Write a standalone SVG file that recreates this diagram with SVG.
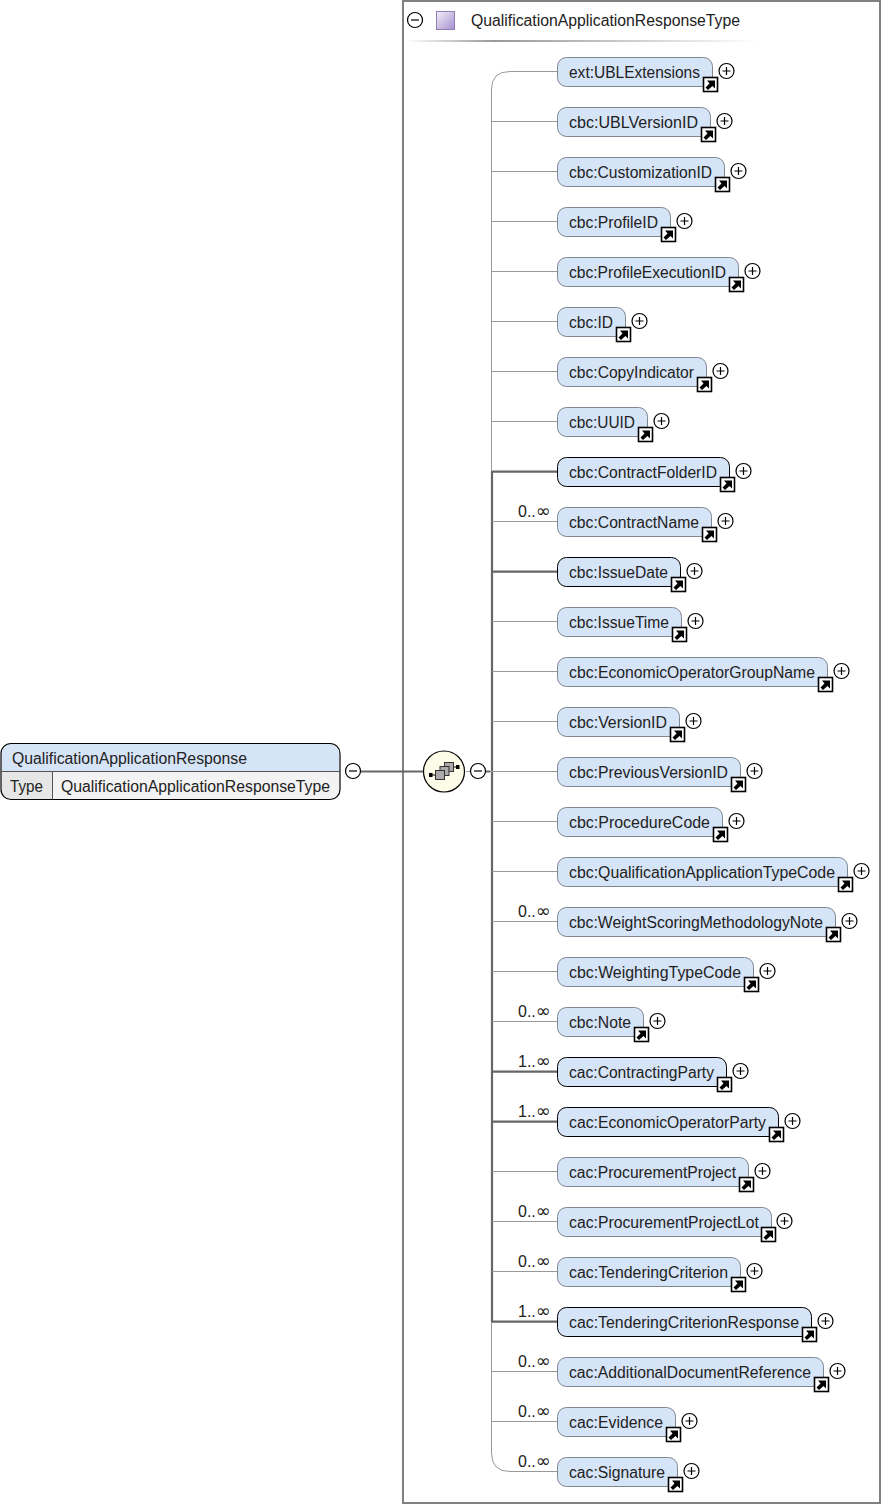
<svg xmlns="http://www.w3.org/2000/svg" xmlns:xlink="http://www.w3.org/1999/xlink" width="883" height="1506" viewBox="0 0 883 1506">
<style>
text{font-family:"Liberation Sans",Arial,sans-serif;font-size:16px;fill:#222}
tspan{font-family:"DejaVu Sans",sans-serif;font-size:18px}
.n{fill:#d6e4f7;stroke:#7f8791;stroke-width:1}
.r{fill:#d6e4f7;stroke:#000;stroke-width:1}
.t{fill:none;stroke:#999;stroke-width:1}
.k{fill:none;stroke:#666;stroke-width:2.2}
.c{fill:#fff;stroke:#000;stroke-width:1.2}
</style>
<defs>
<linearGradient id="sq" x1="0" y1="0" x2="1" y2="1"><stop offset="0" stop-color="#f4f0fa"/><stop offset="1" stop-color="#a68fcf"/></linearGradient>
<linearGradient id="hl" x1="0" y1="0" x2="1" y2="0"><stop offset="0" stop-color="#fff"/><stop offset="0.25" stop-color="#999"/><stop offset="1" stop-color="#fff"/></linearGradient>
<g id="plus"><circle class="c" r="7.5"/><path d="M-4 0H4M0-4V4" stroke="#000" stroke-width="1.2"/></g>
<g id="minus"><circle class="c" r="7.5"/><path d="M-4 0H4" stroke="#000" stroke-width="1.2"/></g>
<g id="link"><rect x="0.5" y="0.5" width="14" height="14" fill="#fff" stroke="#000" stroke-width="1.6"/><path d="M2.500 10.500L6.500 6.500L4 3.500H12V11.500L9.500 9L5 13Z" fill="#000"/></g>
</defs>
<rect width="883" height="1506" fill="#fff"/>
<g id="frame">
<rect x="403" y="1" width="477" height="1502" fill="#fff" stroke="#808080" stroke-width="2"/>
<use xlink:href="#minus" href="#minus" x="415" y="20"/>
<rect x="436.500" y="11.500" width="18" height="18" fill="url(#sq)" stroke="#8f7fb5"/>
<text x="471" y="26" textLength="269" lengthAdjust="spacingAndGlyphs">QualificationApplicationResponseType</text>
<rect x="405" y="40" width="355" height="2" fill="url(#hl)"/>
</g>
<g id="connectors">
<path class="k" d="M361 771.500H423"/>
<path class="t" d="M557 71.500H510Q491.500 71.500 491.500 89V1453Q491.500 1471.500 510 1471.500H557"/>
<path class="k" d="M492 471V1322"/>
<path class="t" d="M466 771.500H470M490 771.500H557M492 121.500H557M492 171.500H557M492 221.500H557M492 271.500H557M492 321.500H557M492 371.500H557M492 421.500H557M492 521.500H557M492 621.500H557M492 671.500H557M492 721.500H557M492 821.500H557M492 871.500H557M492 921.500H557M492 971.500H557M492 1021.500H557M492 1171.500H557M492 1221.500H557M492 1271.500H557M492 1371.500H557M492 1421.500H557"/>
<path class="k" d="M486 771.500H490M492 471.700H557M492 571.700H557M492 1071.700H557M492 1121.700H557M492 1321.700H557"/>
</g>
<g id="root">
<path d="M1.500 771V754a10 10 0 0 1 10-10H329a10 10 0 0 1 10 10V771Z" fill="#d6e4f7"/>
<path d="M1.500 771H53V799H11.500a10 10 0 0 1-10-10Z" fill="#e6e6e6"/>
<path d="M53 771H339V789a10 10 0 0 1-10 10H53Z" fill="#f3f3f3"/>
<rect x="1" y="743.500" width="339" height="56" rx="10" fill="none" stroke="#000" stroke-width="1.2"/>
<path d="M1 771.500H340M52.500 771.500V799.500" stroke="#555" stroke-width="1"/>
<text x="12" y="764" textLength="235" lengthAdjust="spacingAndGlyphs">QualificationApplicationResponse</text>
<text x="10" y="792" textLength="33" lengthAdjust="spacingAndGlyphs">Type</text>
<text x="61" y="792" textLength="269" lengthAdjust="spacingAndGlyphs">QualificationApplicationResponseType</text>
<use xlink:href="#minus" href="#minus" x="353" y="771"/>
</g>
<g id="sequence">
<circle cx="444" cy="771.500" r="20.500" fill="#fcfce8" stroke="#000" stroke-width="1.2"/>
<path d="M430 775H438M452 767H458" stroke="#000"/>
<rect x="429" y="773" width="3.500" height="4" fill="#000"/><rect x="456" y="765" width="3.500" height="4" fill="#000"/>
<rect x="444.500" y="762.500" width="9" height="9" fill="#aaa" stroke="#333"/>
<rect x="440" y="766.500" width="9" height="9" fill="#aaa" stroke="#333"/>
<rect x="435.500" y="770.500" width="9" height="9" fill="#aaa" stroke="#333"/>
<use xlink:href="#minus" href="#minus" x="478" y="771"/>
</g>
<g id="n01"><rect class="n" x="557.500" y="57.500" width="155" height="29" rx="9"/><text x="569" y="78" textLength="131" lengthAdjust="spacingAndGlyphs">ext:UBLExtensions</text><use xlink:href="#link" href="#link" x="703" y="77"/><use xlink:href="#plus" href="#plus" x="726.500" y="71"/></g>
<g id="n02"><rect class="n" x="557.500" y="107.500" width="153" height="29" rx="9"/><text x="569" y="128" textLength="129" lengthAdjust="spacingAndGlyphs">cbc:UBLVersionID</text><use xlink:href="#link" href="#link" x="701" y="127"/><use xlink:href="#plus" href="#plus" x="724.500" y="121"/></g>
<g id="n03"><rect class="n" x="557.500" y="157.500" width="167" height="29" rx="9"/><text x="569" y="178" textLength="143" lengthAdjust="spacingAndGlyphs">cbc:CustomizationID</text><use xlink:href="#link" href="#link" x="715" y="177"/><use xlink:href="#plus" href="#plus" x="738.500" y="171"/></g>
<g id="n04"><rect class="n" x="557.500" y="207.500" width="113" height="29" rx="9"/><text x="569" y="228" textLength="89" lengthAdjust="spacingAndGlyphs">cbc:ProfileID</text><use xlink:href="#link" href="#link" x="661" y="227"/><use xlink:href="#plus" href="#plus" x="684.500" y="221"/></g>
<g id="n05"><rect class="n" x="557.500" y="257.500" width="181" height="29" rx="9"/><text x="569" y="278" textLength="157" lengthAdjust="spacingAndGlyphs">cbc:ProfileExecutionID</text><use xlink:href="#link" href="#link" x="729" y="277"/><use xlink:href="#plus" href="#plus" x="752.500" y="271"/></g>
<g id="n06"><rect class="n" x="557.500" y="307.500" width="68" height="29" rx="9"/><text x="569" y="328" textLength="44" lengthAdjust="spacingAndGlyphs">cbc:ID</text><use xlink:href="#link" href="#link" x="616" y="327"/><use xlink:href="#plus" href="#plus" x="639.500" y="321"/></g>
<g id="n07"><rect class="n" x="557.500" y="357.500" width="149" height="29" rx="9"/><text x="569" y="378" textLength="125" lengthAdjust="spacingAndGlyphs">cbc:CopyIndicator</text><use xlink:href="#link" href="#link" x="697" y="377"/><use xlink:href="#plus" href="#plus" x="720.500" y="371"/></g>
<g id="n08"><rect class="n" x="557.500" y="407.500" width="90" height="29" rx="9"/><text x="569" y="428" textLength="66" lengthAdjust="spacingAndGlyphs">cbc:UUID</text><use xlink:href="#link" href="#link" x="638" y="427"/><use xlink:href="#plus" href="#plus" x="661.500" y="421"/></g>
<g id="n09"><rect class="r" x="557.500" y="457.500" width="172" height="29" rx="9"/><text x="569" y="478" textLength="148" lengthAdjust="spacingAndGlyphs">cbc:ContractFolderID</text><use xlink:href="#link" href="#link" x="720" y="477"/><use xlink:href="#plus" href="#plus" x="743.500" y="471"/></g>
<g id="n10"><rect class="n" x="557.500" y="507.500" width="154" height="29" rx="9"/><text x="569" y="528" textLength="130" lengthAdjust="spacingAndGlyphs">cbc:ContractName</text><use xlink:href="#link" href="#link" x="702" y="527"/><use xlink:href="#plus" href="#plus" x="725.500" y="521"/><text x="518" y="517">0..<tspan>∞</tspan></text></g>
<g id="n11"><rect class="r" x="557.500" y="557.500" width="123" height="29" rx="9"/><text x="569" y="578" textLength="99" lengthAdjust="spacingAndGlyphs">cbc:IssueDate</text><use xlink:href="#link" href="#link" x="671" y="577"/><use xlink:href="#plus" href="#plus" x="694.500" y="571"/></g>
<g id="n12"><rect class="n" x="557.500" y="607.500" width="124" height="29" rx="9"/><text x="569" y="628" textLength="100" lengthAdjust="spacingAndGlyphs">cbc:IssueTime</text><use xlink:href="#link" href="#link" x="672" y="627"/><use xlink:href="#plus" href="#plus" x="695.500" y="621"/></g>
<g id="n13"><rect class="n" x="557.500" y="657.500" width="270" height="29" rx="9"/><text x="569" y="678" textLength="246" lengthAdjust="spacingAndGlyphs">cbc:EconomicOperatorGroupName</text><use xlink:href="#link" href="#link" x="818" y="677"/><use xlink:href="#plus" href="#plus" x="841.500" y="671"/></g>
<g id="n14"><rect class="n" x="557.500" y="707.500" width="122" height="29" rx="9"/><text x="569" y="728" textLength="98" lengthAdjust="spacingAndGlyphs">cbc:VersionID</text><use xlink:href="#link" href="#link" x="670" y="727"/><use xlink:href="#plus" href="#plus" x="693.500" y="721"/></g>
<g id="n15"><rect class="n" x="557.500" y="757.500" width="183" height="29" rx="9"/><text x="569" y="778" textLength="159" lengthAdjust="spacingAndGlyphs">cbc:PreviousVersionID</text><use xlink:href="#link" href="#link" x="731" y="777"/><use xlink:href="#plus" href="#plus" x="754.500" y="771"/></g>
<g id="n16"><rect class="n" x="557.500" y="807.500" width="165" height="29" rx="9"/><text x="569" y="828" textLength="141" lengthAdjust="spacingAndGlyphs">cbc:ProcedureCode</text><use xlink:href="#link" href="#link" x="713" y="827"/><use xlink:href="#plus" href="#plus" x="736.500" y="821"/></g>
<g id="n17"><rect class="n" x="557.500" y="857.500" width="290" height="29" rx="9"/><text x="569" y="878" textLength="266" lengthAdjust="spacingAndGlyphs">cbc:QualificationApplicationTypeCode</text><use xlink:href="#link" href="#link" x="838" y="877"/><use xlink:href="#plus" href="#plus" x="861.500" y="871"/></g>
<g id="n18"><rect class="n" x="557.500" y="907.500" width="278" height="29" rx="9"/><text x="569" y="928" textLength="254" lengthAdjust="spacingAndGlyphs">cbc:WeightScoringMethodologyNote</text><use xlink:href="#link" href="#link" x="826" y="927"/><use xlink:href="#plus" href="#plus" x="849.500" y="921"/><text x="518" y="917">0..<tspan>∞</tspan></text></g>
<g id="n19"><rect class="n" x="557.500" y="957.500" width="196" height="29" rx="9"/><text x="569" y="978" textLength="172" lengthAdjust="spacingAndGlyphs">cbc:WeightingTypeCode</text><use xlink:href="#link" href="#link" x="744" y="977"/><use xlink:href="#plus" href="#plus" x="767.500" y="971"/></g>
<g id="n20"><rect class="n" x="557.500" y="1007.500" width="86" height="29" rx="9"/><text x="569" y="1028" textLength="62" lengthAdjust="spacingAndGlyphs">cbc:Note</text><use xlink:href="#link" href="#link" x="634" y="1027"/><use xlink:href="#plus" href="#plus" x="657.500" y="1021"/><text x="518" y="1017">0..<tspan>∞</tspan></text></g>
<g id="n21"><rect class="r" x="557.500" y="1057.500" width="169" height="29" rx="9"/><text x="569" y="1078" textLength="145" lengthAdjust="spacingAndGlyphs">cac:ContractingParty</text><use xlink:href="#link" href="#link" x="717" y="1077"/><use xlink:href="#plus" href="#plus" x="740.500" y="1071"/><text x="518" y="1067">1..<tspan>∞</tspan></text></g>
<g id="n22"><rect class="r" x="557.500" y="1107.500" width="221" height="29" rx="9"/><text x="569" y="1128" textLength="197" lengthAdjust="spacingAndGlyphs">cac:EconomicOperatorParty</text><use xlink:href="#link" href="#link" x="769" y="1127"/><use xlink:href="#plus" href="#plus" x="792.500" y="1121"/><text x="518" y="1117">1..<tspan>∞</tspan></text></g>
<g id="n23"><rect class="n" x="557.500" y="1157.500" width="191" height="29" rx="9"/><text x="569" y="1178" textLength="167" lengthAdjust="spacingAndGlyphs">cac:ProcurementProject</text><use xlink:href="#link" href="#link" x="739" y="1177"/><use xlink:href="#plus" href="#plus" x="762.500" y="1171"/></g>
<g id="n24"><rect class="n" x="557.500" y="1207.500" width="214" height="29" rx="9"/><text x="569" y="1228" textLength="190" lengthAdjust="spacingAndGlyphs">cac:ProcurementProjectLot</text><use xlink:href="#link" href="#link" x="761" y="1227"/><use xlink:href="#plus" href="#plus" x="784.500" y="1221"/><text x="518" y="1217">0..<tspan>∞</tspan></text></g>
<g id="n25"><rect class="n" x="557.500" y="1257.500" width="183" height="29" rx="9"/><text x="569" y="1278" textLength="159" lengthAdjust="spacingAndGlyphs">cac:TenderingCriterion</text><use xlink:href="#link" href="#link" x="731" y="1277"/><use xlink:href="#plus" href="#plus" x="754.500" y="1271"/><text x="518" y="1267">0..<tspan>∞</tspan></text></g>
<g id="n26"><rect class="r" x="557.500" y="1307.500" width="254" height="29" rx="9"/><text x="569" y="1328" textLength="230" lengthAdjust="spacingAndGlyphs">cac:TenderingCriterionResponse</text><use xlink:href="#link" href="#link" x="802" y="1327"/><use xlink:href="#plus" href="#plus" x="825.500" y="1321"/><text x="518" y="1317">1..<tspan>∞</tspan></text></g>
<g id="n27"><rect class="n" x="557.500" y="1357.500" width="266" height="29" rx="9"/><text x="569" y="1378" textLength="242" lengthAdjust="spacingAndGlyphs">cac:AdditionalDocumentReference</text><use xlink:href="#link" href="#link" x="814" y="1377"/><use xlink:href="#plus" href="#plus" x="837.500" y="1371"/><text x="518" y="1367">0..<tspan>∞</tspan></text></g>
<g id="n28"><rect class="n" x="557.500" y="1407.500" width="118" height="29" rx="9"/><text x="569" y="1428" textLength="94" lengthAdjust="spacingAndGlyphs">cac:Evidence</text><use xlink:href="#link" href="#link" x="666" y="1427"/><use xlink:href="#plus" href="#plus" x="689.500" y="1421"/><text x="518" y="1417">0..<tspan>∞</tspan></text></g>
<g id="n29"><rect class="n" x="557.500" y="1457.500" width="120" height="29" rx="9"/><text x="569" y="1478" textLength="96" lengthAdjust="spacingAndGlyphs">cac:Signature</text><use xlink:href="#link" href="#link" x="668" y="1477"/><use xlink:href="#plus" href="#plus" x="691.500" y="1471"/><text x="518" y="1467">0..<tspan>∞</tspan></text></g>
</svg>
